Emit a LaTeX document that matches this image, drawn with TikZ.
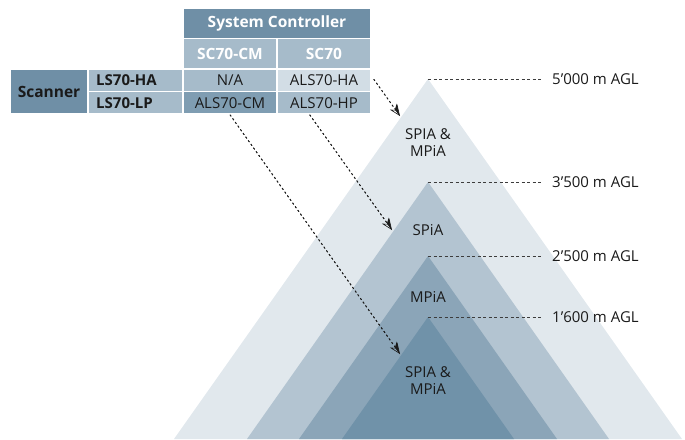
\documentclass[tikz,border=0pt]{standalone}
\usepackage{fontspec}
\setmainfont{Open Sans}
\usetikzlibrary{arrows.meta,calc}
\definecolor{cdark}{HTML}{6F8FA6}
\definecolor{cmid}{HTML}{A6BBCA}
\definecolor{clight}{HTML}{D2DDE5}
\definecolor{cdarker}{HTML}{7F9DB2}
\definecolor{tone}{HTML}{E1E8ED}
\definecolor{ttwo}{HTML}{B3C4D1}
\definecolor{tthree}{HTML}{8BA5B8}
\definecolor{tfour}{HTML}{7092A9}
\definecolor{ink}{HTML}{1A1A1A}
\tikzset{
  cell/.style={draw=white, line width=1.5pt, inner sep=0pt, fill=cmid, text=ink,
    font=\fontsize{15}{17}\selectfont},
  hcell/.style={cell, fill=cdark, text=white, font=\fontsize{15.5}{17}\selectfont\bfseries},
  lbl/.style={text=ink, font=\fontsize{15}{16.5}\selectfont, inner sep=0pt},
  level/.style={draw=ink!85, line width=0.8pt, dash pattern=on 3pt off 2.5pt},
  ptr/.style={draw=ink, line width=0.8pt, dash pattern=on 2pt off 2.5pt},
  tipopen/.style={-{Stealth[open, length=11pt, width=9pt, inset=3.5pt, line width=0.6pt]}},
  tiphalf/.style={-{Stealth[harpoon, length=11pt, width=9pt, inset=3.5pt]}}
}
\begin{document}
\begin{tikzpicture}[x=1pt,y=-1pt]
\useasboundingbox (0,0) rectangle (685,439);
% triangles
\fill[tone]   (428,79)  -- (174,439) -- (682,439) -- cycle;
\fill[ttwo]   (428,182) -- (247,439) -- (609,439) -- cycle;
\fill[tthree] (428,256) -- (299,439) -- (557,439) -- cycle;
\fill[tfour]  (428,317) -- (342,439) -- (514,439) -- cycle;
% apex coordinates and level lines
\coordinate (p1) at (428,79);
\coordinate (p2) at (428,182);
\coordinate (p3) at (428,256);
\coordinate (p4) at (428,317);
\node[lbl, anchor=west] (l1) at (552,79) {5’000 m AGL};
\node[lbl, anchor=west] (l2) at (552,182) {3’500 m AGL};
\node[lbl, anchor=west] (l3) at (552,256) {2’500 m AGL};
\node[lbl, anchor=west] (l4) at (552,317) {1’600 m AGL};
\draw[level] (p1) -- (l1.west -| 542,0);
\draw[level] (p2) -- (l2.west -| 542,0);
\draw[level] (p3) -- (l3.west -| 542,0);
\draw[level] (p4) -- (l4.west -| 542,0);
% zone labels
\node[lbl, align=center] (z1) at (428,142.5) {SPIA \&\\MPiA};
\node[lbl] (z2) at (428,230) {SPiA};
\node[lbl] (z3) at (428,297) {MPiA};
\node[lbl, align=center] (z4) at (428,380.5) {SPIA \&\\MPiA};
% table
\node[hcell, minimum width=188pt, minimum height=30.5pt] (sys) at (277,23.25) {System Controller};
\node[hcell, fill=cmid, minimum width=94pt, minimum height=30.5pt] (sccm) at (230,53.75) {SC70-CM};
\node[hcell, fill=cmid, minimum width=94pt, minimum height=30.5pt] (sc) at (324,53.75) {SC70};
\node[hcell, text=ink, minimum width=78pt, minimum height=45pt] (scan) at (49,91.5) {Scanner};
\node[cell, minimum width=94.5pt, minimum height=22.5pt] (ha) at (135.25,80.25) {};
\node[cell, minimum width=94.5pt, minimum height=22.5pt] (lp) at (135.25,102.75) {};
\node[lbl, font=\fontsize{15}{17}\selectfont\bfseries, anchor=west] at (96,80.25) {LS70-HA};
\node[lbl, font=\fontsize{15}{17}\selectfont\bfseries, anchor=west] at (96,102.75) {LS70-LP};
\node[cell, minimum width=94pt, minimum height=22.5pt] (na) at (230,80.25) {N/A};
\node[cell, fill=clight, minimum width=94pt, minimum height=22.5pt] (alsha) at (324,80.25) {ALS70-HA};
\node[cell, fill=cdarker, minimum width=94pt, minimum height=22.5pt] (alscm) at (230,102.75) {ALS70-CM};
\node[cell, minimum width=94pt, minimum height=22.5pt] (alshp) at (324,102.75) {ALS70-HP};
% arrows
\coordinate (s1) at ($(alsha.east)+(2,-1)$);
\coordinate (s2) at ($(alshp.south west)!0.35!(alshp.south east)$);
\coordinate (s3) at (alscm.south);
\coordinate (e1) at (400,116);
\coordinate (e2) at (392,230);
\coordinate (e3) at (400,354);
\foreach \s/\e in {s1/e1, s2/e2, s3/e3}{
  \draw[ptr, tipopen] (\s) -- (\e);
  \draw[ptr, tiphalf] (\s) -- (\e);
}
\end{tikzpicture}
\end{document}
